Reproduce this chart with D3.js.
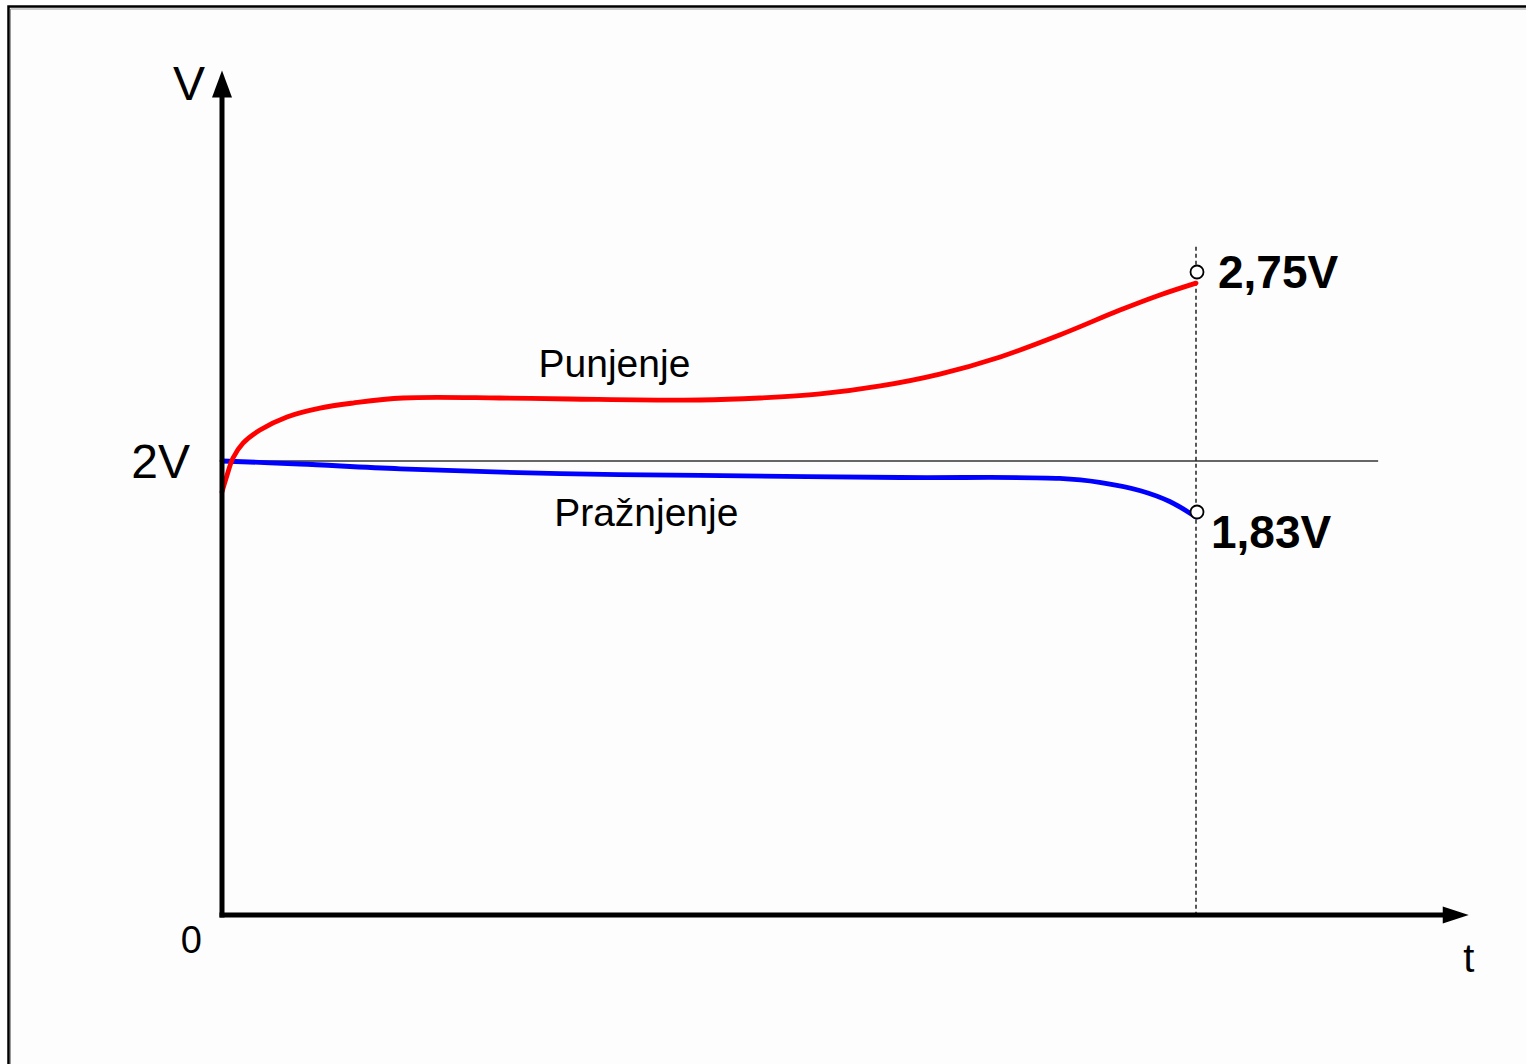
<!DOCTYPE html>
<html>
<head>
<meta charset="utf-8">
<script src="https://cdn.jsdelivr.net/npm/d3@7"></script>
<style>
  html, body { margin: 0; padding: 0; background: #ffffff; }
  svg { display: block; }
  text { font-family: "Liberation Sans", Arial, sans-serif; fill: #000; }
</style>
</head>
<body>
<svg id="chart" width="1526" height="1064"></svg>
<script>
// Time (arbitrary units, end of cycle at t = 10) and cell voltage in volts
const chargeT = [0, 0.051, 0.113, 0.216, 0.39, 0.667, 1.006, 1.345, 1.858, 2.85, 3.57, 4.91, 5.52, 6.14, 6.76, 7.37, 7.99, 8.60, 9.22, 9.63, 10];
const chargeV = [1.897, 1.952, 2.012, 2.071, 2.123, 2.175, 2.210, 2.230, 2.25, 2.25, 2.246, 2.242, 2.25, 2.266, 2.298, 2.345, 2.413, 2.50, 2.599, 2.659, 2.706];

const dischargeT = [0, 0.80, 1.83, 3.47, 4.91, 6.96, 8.60, 9.01, 9.43, 9.73, 10];
const dischargeV = [2.0, 1.990, 1.974, 1.958, 1.952, 1.945, 1.942, 1.929, 1.901, 1.865, 1.807];

// Labelled end-of-cycle voltages
const endT = 10;
const endValues = [2.75, 1.83];
const endLabels = ["2,75V", "1,83V"];

// Reference level and axis tick labels
const refV = 2;
const refLabel = "2V";
const originLabel = "0";
const axisLabels = { y: "V", x: "t" };
const curveLabels = ["Punjenje", "Pražnjenje"];

const svg = d3.select("#chart");

// Schematic (not to scale) voltage axis: piecewise-linear between key levels
const y = d3.scaleLinear()
  .domain([0, 1.83, 2, 2.75])
  .range([915, 512, 461, 272]);
const x = d3.scaleLinear().domain([0, 10]).range([222, 1196]);
const tMax = 12.8;   // x axis arrow tip
const vMax = 3.55;   // y axis arrow tip

// Outer frame (only its top-left corner falls inside the canvas)
svg.append("rect").attr("x", 8.5).attr("y", 6.5).attr("width", 1600).attr("height", 1200)
  .attr("fill", "#fdfdfd").attr("stroke", "#000").attr("stroke-width", 2.5);
svg.append("path").attr("d", "M10.5,1064 V9 H1526").attr("fill", "none")
  .attr("stroke", "#9a9a9a").attr("stroke-width", 1);

// Reference 2V line
svg.append("line")
  .attr("x1", x(0)).attr("x2", x(11.87))
  .attr("y1", y(refV)).attr("y2", y(refV))
  .attr("stroke", "#333").attr("stroke-width", 1.4);

// Dashed marker at the end of the cycle
svg.append("line")
  .attr("x1", x(endT)).attr("x2", x(endT))
  .attr("y1", y(2.85)).attr("y2", y(0))
  .attr("stroke", "#000").attr("stroke-width", 1.3)
  .attr("stroke-dasharray", "4,3");

const line = d3.line()
  .x(d => x(d[0])).y(d => y(d[1]))
  .curve(d3.curveCatmullRom.alpha(0.5));

// Discharge curve (blue)
svg.append("path")
  .datum(d3.zip(dischargeT, dischargeV))
  .attr("d", line)
  .attr("fill", "none").attr("stroke", "#0000ff").attr("stroke-width", 4.8)
  .attr("stroke-linecap", "round");

// Charge curve (red)
svg.append("path")
  .datum(d3.zip(chargeT, chargeV))
  .attr("d", line)
  .attr("fill", "none").attr("stroke", "#ff0000").attr("stroke-width", 4.8)
  .attr("stroke-linecap", "round");

// Axes with arrowheads
svg.append("line")
  .attr("x1", x(0)).attr("x2", x(0))
  .attr("y1", y(0) + 2.5).attr("y2", y(vMax) + 20)
  .attr("stroke", "#000").attr("stroke-width", 5);
svg.append("path")
  .attr("d", `M${x(0)},${y(vMax)} L${x(0) - 10},${y(vMax) + 27} L${x(0) + 10},${y(vMax) + 27} Z`)
  .attr("fill", "#000");

svg.append("line")
  .attr("x1", x(0) - 2.5).attr("x2", x(tMax) - 20)
  .attr("y1", y(0)).attr("y2", y(0))
  .attr("stroke", "#000").attr("stroke-width", 5);
svg.append("path")
  .attr("d", `M${x(tMax)},${y(0)} L${x(tMax) - 26},${y(0) - 8.5} L${x(tMax) - 26},${y(0) + 8.5} Z`)
  .attr("fill", "#000");

// End-point markers
svg.selectAll("circle.end")
  .data(endValues)
  .join("circle")
  .attr("class", "end")
  .attr("cx", x(endT) + 1)
  .attr("cy", d => y(d))
  .attr("r", 6.5)
  .attr("fill", "#fff").attr("stroke", "#000").attr("stroke-width", 1.8);

// End-point value labels
svg.append("text").attr("x", x(endT) + 22).attr("y", y(endValues[0]) + 16)
  .attr("font-size", 46).attr("font-weight", "bold").text(endLabels[0]);
svg.append("text").attr("x", x(endT) + 15).attr("y", y(endValues[1]) + 36)
  .attr("font-size", 46).attr("font-weight", "bold").text(endLabels[1]);

// Axis and level labels
svg.append("text").attr("x", x(0) - 32).attr("y", y(refV) + 17)
  .attr("text-anchor", "end").attr("font-size", 48).text(refLabel);
svg.append("text").attr("x", x(0) - 20).attr("y", y(0) + 38)
  .attr("text-anchor", "end").attr("font-size", 38).text(originLabel);
svg.append("text").attr("x", x(0) - 17).attr("y", y(vMax) + 30)
  .attr("text-anchor", "end").attr("font-size", 48).text(axisLabels.y);
svg.append("text").attr("x", x(tMax)).attr("y", y(0) + 57)
  .attr("text-anchor", "middle").attr("font-size", 40).text(axisLabels.x);

// Curve names
svg.append("text").attr("x", x(3.25)).attr("y", y(2.333))
  .attr("font-size", 39).text(curveLabels[0]);
svg.append("text").attr("x", x(3.41)).attr("y", y(1.766))
  .attr("font-size", 39).text(curveLabels[1]);
</script>
</body>
</html>
